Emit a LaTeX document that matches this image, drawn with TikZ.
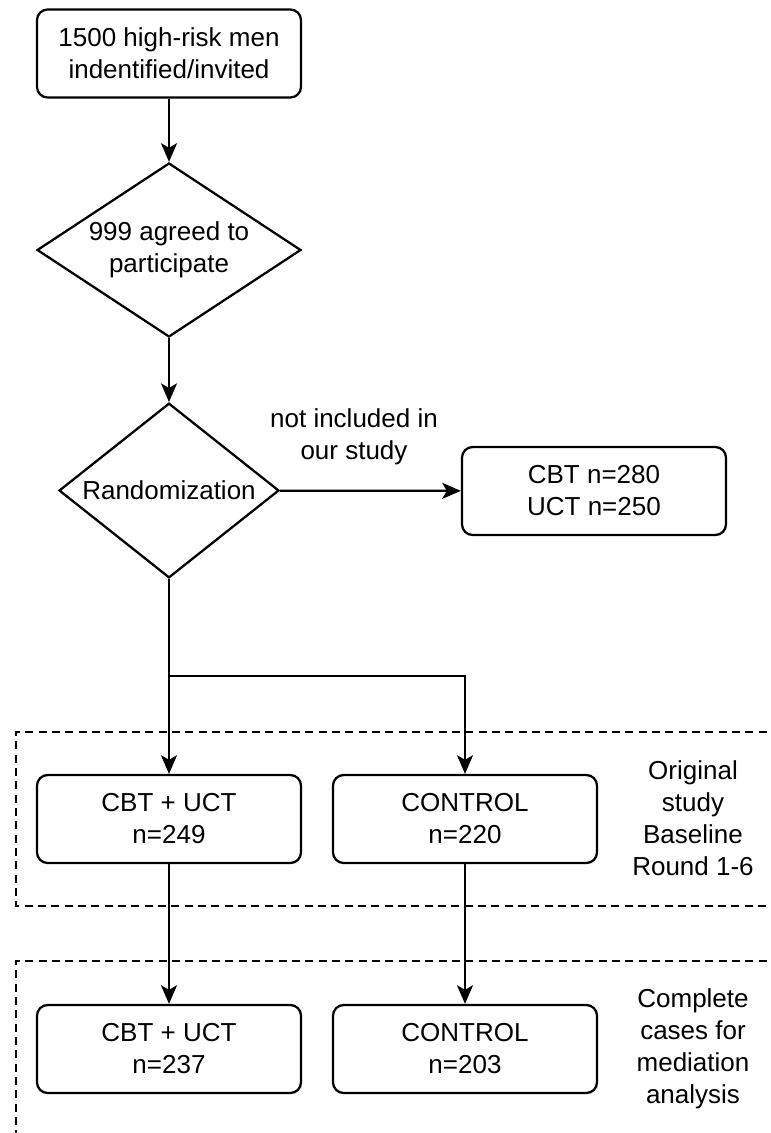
\documentclass[tikz,border=0pt]{standalone}
\usepackage{fontspec}
\setmainfont{Liberation Sans}
\usetikzlibrary{shapes.geometric,arrows.meta}
\begin{document}
\begin{tikzpicture}[x=0.75pt,y=-0.75pt,
  every node/.style={font=\fontsize{19.5pt}{24pt}\selectfont, align=center},
  boxnode/.style={draw, line width=1.7pt, rounded corners=8pt, minimum width=198pt, minimum height=66pt, inner sep=0pt},
  dianode/.style={draw, line width=1.7pt, diamond, inner sep=0pt},
  arr/.style={line width=1.7pt, -{Stealth[length=14pt,width=12pt,inset=3.5pt]}},
  region/.style={line width=1.4pt, dash pattern=on 6pt off 4pt}
]
\useasboundingbox (0,0) rectangle (771,1133);
\fill[white] (0,0) rectangle (771,1133);

\node[boxnode] (top) at (169,53.5) {1500 high-risk men\\indentified/invited};
\node[dianode, minimum width=198pt, minimum height=130.5pt, aspect=1.52] (d1) at (169,250) {999 agreed to\\participate};
\node[dianode, minimum width=165pt, minimum height=131pt, aspect=1.26] (d2) at (169,490.5) {Randomization};
\node[boxnode] (right) at (594,491) {CBT n=280\\UCT n=250};
\node (lab) at (354,437) {not included in\\our study};

\node[boxnode] (c1) at (169,819) {CBT + UCT\\n=249};
\node[boxnode] (c2) at (465,819) {CONTROL\\n=220};
\node (r1) at (693,818.5) {Original\\study\\Baseline\\Round 1-6};

\node[boxnode] (e1) at (169,1049) {CBT + UCT\\n=237};
\node[boxnode] (e2) at (465,1049) {CONTROL\\n=203};
\node (r2) at (693,1049) {Complete\\cases for\\mediation\\analysis};

\coordinate (split) at (169,676);

\draw[region] (780,732) -- (16,732) -- (16,906) -- (780,906);
\draw[region] (780,961) -- (16,961) -- (16,1145);

\draw[arr] (top) -- (d1);
\draw[arr] (d1) -- (d2);
\draw[arr] (d2) -- (right);
\draw[arr] (d2.south) -- (c1.north);
\draw[arr] (split) -| (c2.north);
\draw[arr] (c1) -- (e1);
\draw[arr] (c2) -- (e2);
\end{tikzpicture}
\end{document}
